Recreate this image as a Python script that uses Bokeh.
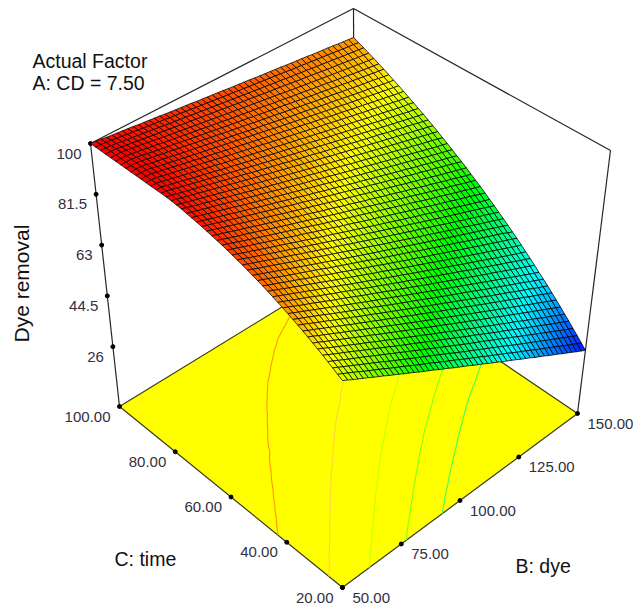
import numpy as np
from bokeh.plotting import figure
from bokeh.models import Range1d
from bokeh.core.properties import value
from bokeh.embed import file_html
from bokeh.resources import INLINE

time_ticks = [20, 40, 60, 80, 100]
time_labels = ["20.00", "40.00", "60.00", "80.00", "100.00"]
dye_ticks = [50, 75, 100, 125, 150]
dye_labels = ["50.00", "75.00", "100.00", "125.00", "150.00"]
removal_ticks = [26, 44.5, 63, 81.5, 100]
removal_labels = ["26", "44.5", "63", "81.5", "100"]
contour_levels = [91.25, 81.75, 72.85, 64.75, 56.85]
contour_colors = ["#ff9410", "#ffd23c", "#c4ff00", "#7cff20", "#38ff60"]
color_stops = [26, 44.5, 63, 81.5, 100]
color_rgb = [(0, 0, 255), (0, 255, 255), (0, 255, 0), (255, 255, 0), (255, 0, 0)]

time_grid = [20.0,21.6,23.2,24.8,26.4,28.0,29.6,31.2,32.8,34.4,36.0,37.6,39.2,40.8,42.4,44.0,45.6,47.2,48.8,50.4,52.0,53.6,55.2,56.8,58.4,60.0,61.6,63.2,64.8,66.4,68.0,69.6,71.2,72.8,74.4,76.0,77.6,79.2,80.8,82.4,84.0,85.6,87.2,88.8,90.4,92.0,93.6,95.2,96.8,98.4,100.0]
dye_grid = [50,52,54,56,58,60,62,64,66,68,70,72,74,76,78,80,82,84,86,88,90,92,94,96,98,100,102,104,106,108,110,112,114,116,118,120,122,124,126,128,130,132,134,136,138,140,142,144,146,148,150]

# Dye removal in tenths of a percent: one row per time_grid entry, one column per dye_grid entry
removal_tenths = [
[787,777,766,756,746,736,725,715,705,694,684,674,663,653,643,632,622,612,602,591,581,571,560,550,540,530,519,509,499,488,478,468,457,447,437,427,416,406,396,385,375,365,354,344,334,323,313,303,292,282,272],
[797,787,777,767,757,746,736,726,716,706,695,685,675,665,655,644,634,624,614,604,593,583,573,563,553,542,532,522,512,502,491,481,471,461,451,440,430,420,410,400,389,379,369,359,349,338,328,318,308,298,288],
[807,797,787,777,767,757,747,737,727,717,707,696,686,676,666,656,646,636,626,616,606,596,586,576,565,555,545,535,525,515,505,495,485,475,465,455,444,434,424,414,404,394,384,374,364,354,344,334,324,314,304],
[817,807,797,787,777,767,758,748,738,728,718,708,698,688,678,668,658,648,638,628,618,608,598,588,578,568,558,548,538,528,519,509,499,489,479,469,459,449,439,429,419,409,399,389,379,369,359,349,339,329,319],
[827,817,807,797,788,778,768,758,748,738,729,719,709,699,689,679,669,660,650,640,630,620,610,601,591,581,571,561,551,541,532,522,512,502,492,482,473,463,453,443,433,423,414,404,394,384,374,364,355,345,335],
[836,827,817,807,797,788,778,768,758,749,739,729,719,710,700,690,680,671,661,651,642,632,622,612,603,593,583,573,564,554,544,534,525,515,505,495,486,476,466,457,447,437,427,418,408,398,388,379,369,359,350],
[845,836,826,816,807,797,788,778,768,759,749,740,730,720,711,701,692,682,672,663,653,644,634,624,615,605,596,586,576,567,557,548,538,528,519,509,500,490,480,471,461,452,442,432,423,413,404,394,384,375,365],
[854,845,835,826,816,807,797,788,778,769,759,750,740,731,721,712,702,693,683,674,664,655,645,636,626,617,608,598,589,579,570,560,551,541,532,522,513,503,494,484,475,465,456,446,437,427,418,408,399,389,380],
[863,853,844,835,825,816,807,797,788,778,769,760,750,741,732,722,713,704,694,685,676,666,657,648,638,629,620,610,601,592,582,573,564,554,545,536,526,517,508,498,489,480,470,461,452,442,433,424,414,405,395],
[871,862,853,843,834,825,816,806,797,788,779,770,760,751,742,733,723,714,705,696,687,677,668,659,650,640,631,622,613,604,594,585,576,567,557,548,539,530,520,511,502,493,484,474,465,456,447,437,428,419,410],
[879,870,861,852,843,834,825,815,806,797,788,779,770,761,752,743,734,724,715,706,697,688,679,670,661,652,643,633,624,615,606,597,588,579,570,561,552,542,533,524,515,506,497,488,479,470,461,451,442,433,424],
[887,878,869,860,851,842,833,824,815,806,797,788,779,770,761,752,743,734,726,717,708,699,690,681,672,663,654,645,636,627,618,609,600,591,582,573,564,555,546,537,528,519,510,501,492,483,474,465,456,447,438],
[895,886,877,868,859,851,842,833,824,815,806,798,789,780,771,762,753,745,736,727,718,709,700,692,683,674,665,656,647,639,630,621,612,603,594,586,577,568,559,550,541,533,524,515,506,497,488,480,471,462,453],
[902,893,885,876,867,859,850,841,832,824,815,806,798,789,780,772,763,754,745,737,728,719,711,702,693,685,676,667,658,650,641,632,624,615,606,598,589,580,571,563,554,545,537,528,519,511,502,493,484,476,467],
[909,901,892,883,875,866,858,849,840,832,823,815,806,798,789,780,772,763,755,746,737,729,720,712,703,695,686,677,669,660,652,643,634,626,617,609,600,591,583,574,566,557,549,540,531,523,514,506,497,489,481],
[916,908,899,891,882,874,865,857,849,840,832,823,815,806,798,790,781,773,764,756,747,739,731,722,714,705,697,688,680,672,663,655,646,638,629,621,613,604,596,587,579,570,562,554,545,537,528,520,511,503,495],
[923,914,906,898,889,881,873,865,856,848,840,832,823,815,807,799,790,782,774,765,757,749,741,732,724,716,708,699,691,683,675,666,658,650,642,633,625,617,608,600,592,584,575,567,559,551,542,534,526,518,509],
[929,921,913,905,896,888,880,872,864,856,848,840,832,823,815,807,799,791,783,775,767,759,750,742,734,726,718,710,702,694,686,677,669,661,653,645,637,629,621,613,604,596,588,580,572,564,556,548,540,530,522],
[935,927,919,911,903,895,887,879,871,863,855,847,839,831,823,815,807,799,791,783,775,767,759,751,743,736,728,720,712,704,696,688,680,672,664,656,648,640,632,624,616,608,600,592,584,576,568,560,552,544,536],
[941,933,925,917,910,902,894,886,878,870,863,855,847,839,831,823,816,808,800,792,784,776,769,761,753,745,737,729,722,714,706,698,690,682,675,667,659,651,643,635,627,620,612,604,596,588,580,573,565,557,549],
[947,939,931,924,916,908,900,893,885,878,870,862,855,847,839,832,824,816,809,801,793,785,778,770,762,755,747,739,732,724,716,709,701,693,686,678,670,663,655,647,639,632,624,616,609,601,593,586,578,570,562],
[952,945,937,929,922,914,907,899,892,884,877,869,862,854,847,839,832,824,817,809,801,794,786,779,771,764,756,749,741,734,726,719,711,704,696,688,681,673,666,658,651,643,636,628,621,613,606,598,591,583,575],
[957,950,942,935,928,920,913,905,898,891,883,876,868,861,854,846,839,831,824,817,809,802,794,787,780,772,765,757,750,743,735,728,720,713,706,698,691,684,676,669,661,654,647,639,632,624,617,610,602,595,588],
[962,955,948,940,933,926,919,911,904,897,890,883,875,868,861,854,846,839,832,825,818,810,803,796,789,781,774,767,760,753,745,738,731,724,716,709,702,695,688,680,673,666,659,652,644,637,630,623,615,608,601],
[967,960,953,946,938,931,924,917,910,903,896,889,882,875,868,861,854,847,839,832,825,818,811,804,797,790,783,776,769,762,755,748,741,734,727,720,713,706,698,691,684,677,670,663,656,649,642,635,628,621,614],
[971,964,957,950,943,937,930,923,916,909,902,895,888,881,874,868,861,854,847,840,833,826,819,812,805,799,792,785,778,771,764,757,750,743,736,730,723,716,709,702,695,688,681,674,667,661,654,647,640,633,626],
[975,968,962,955,948,941,935,928,921,914,908,901,894,887,881,874,867,860,854,847,840,833,827,820,813,806,800,793,786,779,773,766,759,752,746,739,732,725,719,712,705,698,692,685,678,671,665,658,651,644,638],
[979,972,966,959,953,946,940,933,926,920,913,907,900,894,887,880,874,867,861,854,848,841,835,828,821,815,808,802,795,789,782,775,769,762,756,749,743,736,729,723,716,710,703,697,690,683,677,670,664,657,651],
[983,976,970,964,957,951,945,938,932,925,919,913,906,900,894,887,881,874,868,862,855,849,842,836,830,823,817,811,804,798,791,785,779,772,766,759,753,747,740,734,727,721,715,708,702,696,689,683,676,670,663],
[986,980,974,967,961,955,949,942,936,930,924,917,911,905,899,893,886,880,874,868,861,855,849,843,836,830,824,818,811,805,799,793,787,780,774,768,762,755,749,743,737,730,724,718,712,705,699,693,687,681,674],
[989,983,977,971,965,959,953,947,941,934,928,922,916,910,904,898,892,886,880,874,868,862,856,850,844,838,832,825,819,813,807,801,795,789,783,777,771,765,759,753,747,741,735,729,722,716,710,704,698,692,686],
[992,986,980,974,968,963,957,951,945,939,933,927,921,915,910,904,898,892,886,880,874,868,862,857,851,845,839,833,827,821,815,809,804,798,792,786,780,774,768,762,756,751,745,739,733,727,721,715,709,704,698],
[995,989,983,977,972,966,960,955,949,943,938,932,926,920,915,909,903,898,892,886,881,875,869,863,858,852,846,841,835,829,824,818,812,806,801,795,789,784,778,772,767,761,755,749,744,738,732,727,721,715,709],
[997,991,986,980,975,969,964,958,953,947,942,936,931,925,920,914,909,903,898,892,886,881,875,870,864,859,853,848,842,837,831,826,820,815,809,804,798,793,787,782,776,771,765,760,754,749,743,738,732,727,721],
[999,994,988,983,978,973,967,962,957,951,946,941,935,930,925,919,914,909,903,898,893,887,882,877,871,866,861,855,850,845,839,834,829,823,818,813,807,802,797,791,786,781,775,770,765,759,754,749,743,738,732],
[1000,996,990,985,980,975,970,965,960,954,950,944,939,934,929,924,918,913,908,903,898,893,888,882,877,872,867,862,857,851,846,841,836,831,826,820,815,810,805,800,795,790,784,779,774,769,764,759,753,748,743],
[1000,998,993,988,983,978,973,968,963,958,953,948,943,938,933,928,923,918,913,908,903,898,893,888,883,878,873,868,863,858,853,848,843,838,833,828,823,818,813,808,803,798,793,788,783,778,773,768,763,758,754],
[1000,999,994,990,985,980,975,970,965,961,956,951,946,941,937,932,927,922,917,913,908,903,898,893,889,884,879,874,869,865,860,855,850,845,841,836,831,826,821,817,812,807,802,797,793,788,783,778,773,769,764],
[1000,1000,996,991,987,982,977,973,968,963,959,954,950,945,940,936,931,926,922,917,913,908,903,899,894,889,885,880,876,871,866,862,857,852,848,843,839,834,829,825,820,815,811,806,802,797,792,788,783,780,775],
[1000,1000,998,993,988,984,980,975,971,966,962,958,953,949,944,940,935,931,926,922,918,913,909,904,900,895,891,887,882,878,873,869,864,860,856,851,847,842,838,833,829,824,820,816,811,807,802,798,793,789,785],
[1000,1000,999,994,990,986,982,977,973,969,965,960,956,952,948,944,939,935,931,927,922,918,914,910,905,901,897,893,888,884,880,876,871,867,863,859,854,850,846,842,837,833,829,825,820,816,812,808,803,799,796],
[1000,1000,1000,996,991,987,983,979,975,971,967,963,959,955,951,947,943,939,935,931,927,923,919,915,911,907,902,898,894,890,886,882,878,874,870,866,862,858,854,850,846,842,838,834,830,826,822,818,814,810,806],
[1000,1000,1000,997,992,988,985,981,977,973,969,965,962,958,954,950,946,942,938,935,931,927,923,919,915,912,908,904,900,896,892,888,885,881,877,873,869,865,862,858,854,850,846,842,838,835,831,827,823,819,816],
[1000,1000,1000,997,993,989,986,982,979,975,971,968,964,960,957,953,949,946,942,938,935,931,928,924,920,916,913,909,906,902,898,895,891,887,884,880,876,873,869,866,862,858,855,851,847,844,840,837,833,829,826],
[1000,1000,1000,997,994,990,986,983,979,976,973,969,966,962,959,955,952,949,945,942,938,935,931,928,925,921,918,914,911,907,904,901,897,894,890,887,883,880,877,873,870,866,863,859,856,853,849,846,842,839,836],
[1000,1000,1000,997,994,991,987,984,981,977,974,971,968,964,961,958,955,951,948,945,942,938,935,932,929,925,922,919,916,912,909,906,903,899,896,893,890,886,883,880,877,873,870,867,864,860,857,854,851,848,845],
[1000,1000,1000,997,994,991,988,985,982,979,975,972,969,966,963,960,957,954,951,948,945,942,939,936,933,930,927,924,921,918,915,912,909,905,902,899,896,893,890,887,884,881,878,875,872,869,866,863,860,857,855],
[1000,1000,999,996,993,991,988,985,982,979,977,974,971,968,965,962,960,957,954,951,948,946,943,940,937,934,931,929,926,923,920,917,915,912,909,906,903,900,898,895,892,889,886,883,881,878,875,872,869,867,864],
[1000,1000,998,996,993,990,988,985,983,980,977,975,972,969,967,964,962,959,956,954,951,949,946,943,941,938,936,933,930,928,925,923,920,917,915,912,909,907,904,902,899,896,894,891,889,886,883,881,878,876,873],
[1000,999,997,995,992,990,987,985,983,980,978,976,973,971,968,966,964,961,959,956,954,952,949,947,944,942,940,937,935,932,930,928,925,923,921,918,916,913,911,909,906,904,901,899,897,894,892,889,887,885,882],
[1000,998,996,993,991,989,987,985,983,980,978,976,974,972,969,967,965,963,961,959,956,954,952,950,948,946,943,941,939,937,935,932,930,928,926,924,922,919,917,915,913,911,908,906,904,902,900,897,895,893,891],
]

# Plot box: screen anchors of the eight corners, (time low/high, dye low/high)
FLOOR = {(0, 0): (342, 587), (1, 0): (119, 406), (0, 1): (577, 413), (1, 1): (354, 262)}
TOP = {(0, 0): (342, 321), (1, 0): (90, 143), (0, 1): (610, 150), (1, 1): (353, 8)}
Z_FLOOR = 4.2
Z_TOP = 100.0


def project(t, d, z):
    u = (np.asarray(t, float) - 20.0) / 80.0
    v = (np.asarray(d, float) - 50.0) / 100.0
    w = (np.asarray(z, float) - Z_FLOOR) / (Z_TOP - Z_FLOOR)
    out = []
    for k in (0, 1):
        f = ((1 - u) * (1 - v) * FLOOR[0, 0][k] + u * (1 - v) * FLOOR[1, 0][k]
             + (1 - u) * v * FLOOR[0, 1][k] + u * v * FLOOR[1, 1][k])
        g = ((1 - u) * (1 - v) * TOP[0, 0][k] + u * (1 - v) * TOP[1, 0][k]
             + (1 - u) * v * TOP[0, 1][k] + u * v * TOP[1, 1][k])
        out.append((1 - w) * f + w * g)
    return out[0], out[1]


def color_of(z):
    r = [np.interp(z, color_stops, [c[i] for c in color_rgb]) for i in range(3)]
    return "#%02x%02x%02x" % tuple(int(round(float(c))) for c in r)


times = np.array(time_grid)
dyes = np.array(dye_grid)
Z = np.array(removal_tenths) / 10.0

p = figure(width=633, height=607, x_range=Range1d(0, 633), y_range=Range1d(607, 0),
           output_backend="svg", toolbar_location=None, min_border=0,
           outline_line_color=None, background_fill_color="white", border_fill_color="white")
p.axis.visible = False
p.grid.visible = False

LINE = "#262626"


def seg(a, b, width=1.2):
    xs, ys = project([a[0], b[0]], [a[1], b[1]], [a[2], b[2]])
    p.line(xs, ys, line_color=LINE, line_width=width)


# Box edges behind the surface
seg((100, 50, Z_TOP), (100, 150, Z_TOP))
seg((100, 150, Z_TOP), (20, 150, Z_TOP))
seg((100, 50, Z_TOP), (100, 50, Z_FLOOR))
seg((20, 150, Z_TOP), (20, 150, Z_FLOOR))
seg((100, 150, Z_TOP), (100, 150, Z_FLOOR))

# Floor
fx, fy = project([20, 100, 100, 20], [50, 50, 150, 150], [Z_FLOOR] * 4)
p.patch(list(fx), list(fy), fill_color="#ffff00", line_color="#3a3a20", line_width=1.2)


# Floor contours from the table (marching squares)
def contour_segments(level):
    xs, ys = [], []
    for i in range(len(times) - 1):
        for j in range(len(dyes) - 1):
            c = [(times[i], dyes[j], Z[i, j]), (times[i + 1], dyes[j], Z[i + 1, j]),
                 (times[i + 1], dyes[j + 1], Z[i + 1, j + 1]), (times[i], dyes[j + 1], Z[i, j + 1])]
            pts = []
            for a, b in zip(c, c[1:] + c[:1]):
                if (a[2] - level) * (b[2] - level) < 0:
                    f = (level - a[2]) / (b[2] - a[2])
                    pts.append((a[0] + f * (b[0] - a[0]), a[1] + f * (b[1] - a[1])))
            if len(pts) >= 2:
                sx, sy = project([q[0] for q in pts[:2]], [q[1] for q in pts[:2]], [Z_FLOOR, Z_FLOOR])
                xs.append(list(sx))
                ys.append(list(sy))
    return xs, ys


for level, level_color in zip(contour_levels, contour_colors):
    cx, cy = contour_segments(level)
    p.multi_line(cx, cy, line_color=level_color, line_width=1.1)

# Tick dots
tx, ty = project(time_ticks, [50] * 5, [Z_FLOOR] * 5)
dx, dy = project([20] * 5, dye_ticks, [Z_FLOOR] * 5)
zx, zy = project([100] * 5, [50] * 5, removal_ticks)
for a, b in [(tx, ty), (dx, dy), (zx, zy)]:
    p.scatter(list(a), list(b), size=4, marker="circle", fill_color="black", line_color="black")

# Surface, far cells first
px, py, pc = [], [], []
sx, sy = project(times[:, None] * np.ones((51, 51)), dyes[None, :] * np.ones((51, 51)), Z)
for i in range(49, -1, -1):
    for j in range(49, -1, -1):
        px.append([sx[i, j], sx[i + 1, j], sx[i + 1, j + 1], sx[i, j + 1]])
        py.append([sy[i, j], sy[i + 1, j], sy[i + 1, j + 1], sy[i, j + 1]])
        pc.append(color_of((Z[i, j] + Z[i + 1, j] + Z[i + 1, j + 1] + Z[i, j + 1]) / 4))
p.patches(px, py, fill_color=pc, line_color="black", line_width=0.9, line_alpha=0.85)

# Tick labels
FONT = value("Liberation Sans")
TICK = "#30303f"
kw = dict(text_font=FONT, text_font_size="15px", text_color=TICK, text_baseline="middle")
p.text(list(tx), list(ty), text=time_labels, text_align="right", x_offset=-9, y_offset=10, **kw)
p.text(list(dx), list(dy), text=dye_labels, text_align="left", x_offset=10, y_offset=10, **kw)
p.text(list(zx), list(zy), text=removal_labels, text_align="right", x_offset=-9, y_offset=10, **kw)

# Titles
tk = dict(text_font=FONT, text_font_size="19.5px", text_color="#111111", text_baseline="alphabetic", text_align="left")
p.text([32], [60], text=["Actual Factor"], **tk)
p.text([32], [82], text=["A: CD = 7.50"], **tk)
p.text([114], [558], text=["C: time"], **tk)
p.text([515], [565], text=["B: dye"], **tk)
p.text([21], [342], text=["Dye removal"], angle=np.pi / 2, text_font=FONT, text_font_size="21px",
       text_color="#111111", text_baseline="alphabetic", text_align="left")

open("out.html", "w").write(file_html(p, INLINE))
